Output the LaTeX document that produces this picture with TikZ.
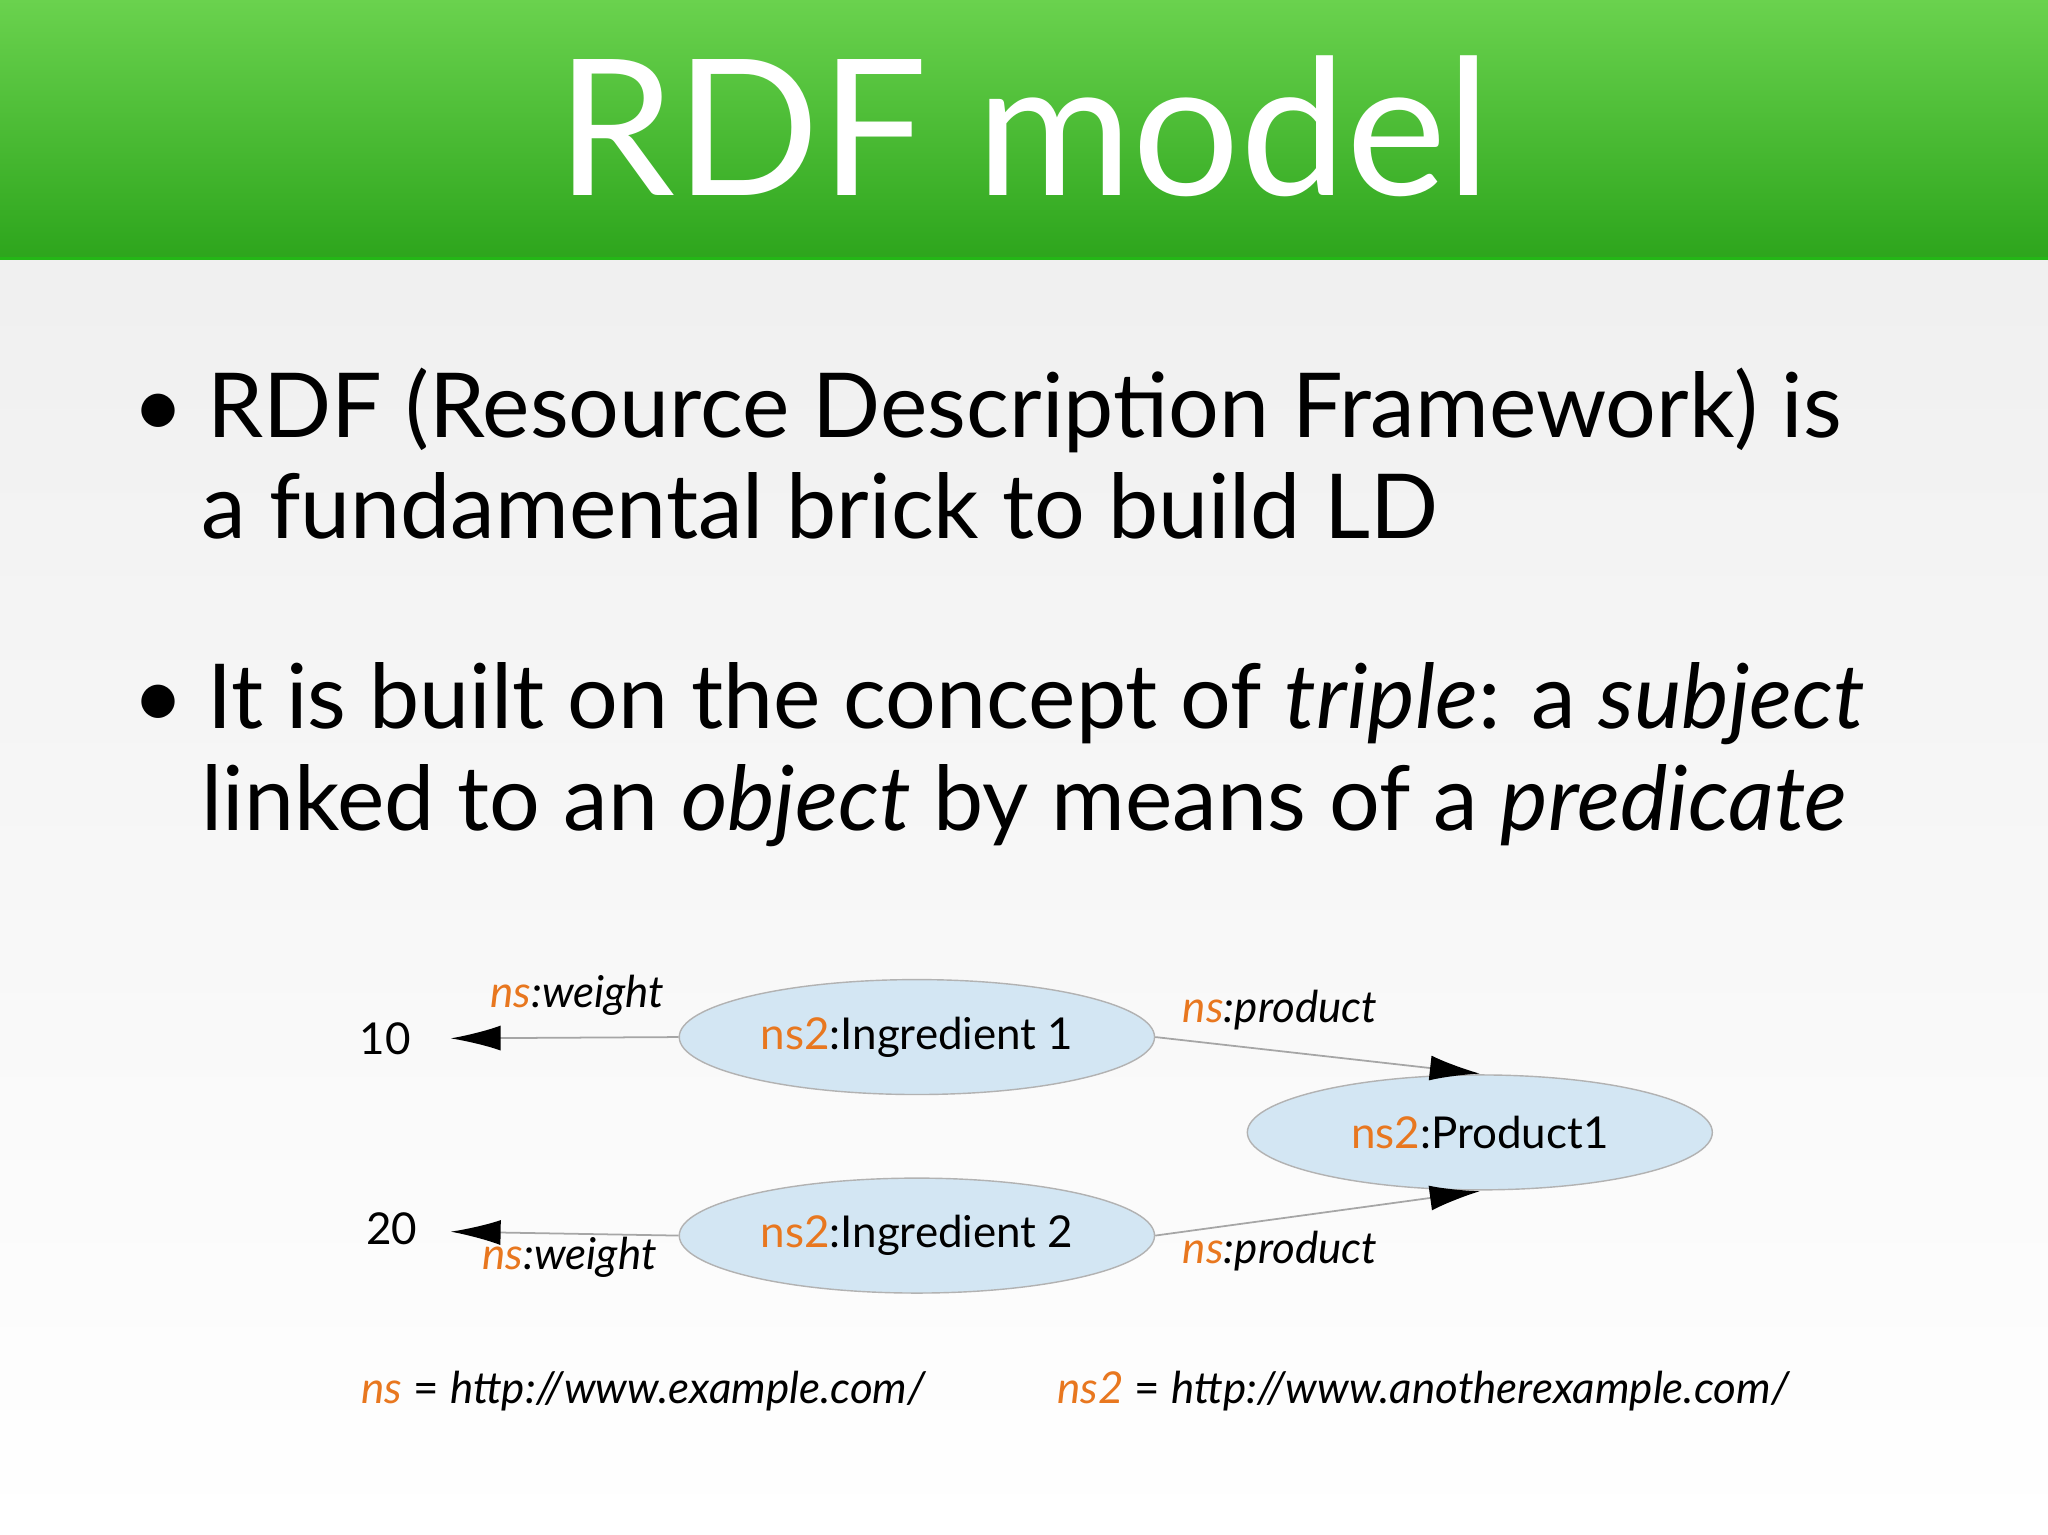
\documentclass[tikz,border=0pt]{standalone}
\usepackage{fontspec}
\setmainfont{Lato}
\usetikzlibrary{arrows.meta,shapes.geometric}
\definecolor{ora}{HTML}{E8771F}
\definecolor{ell}{HTML}{D3E6F3}
\definecolor{gtop}{HTML}{6AD24E}
\definecolor{gbot}{HTML}{2DA51C}
\begin{document}
\begin{tikzpicture}[x=0.01306cm,y=-0.01306cm,
  res/.style={ellipse,draw=gray!60,fill=ell,minimum width=356*0.01306cm,minimum height=88*0.01306cm,font=\fontsize{12.5}{14}\selectfont},
  lbl/.style={font=\fontsize{12.5}{14}\selectfont},
  arr/.style={draw=gray!70,line width=0.5pt,-{Latex[length=5mm,width=2.5mm,black]}},
  bul/.style={anchor=base west,align=left,font=\fontsize{25.5}{26}\selectfont}]
\path[use as bounding box] (0,0) rectangle (1568,1175);
\shade[top color=white!94!black,bottom color=white] (0,198) rectangle (1568,1175);
\shade[top color=gtop,bottom color=gbot] (0,0) rectangle (1568,198);
\draw[gbot!80!green,line width=1pt] (0,198) -- (1568,198);
\node[white,font=\fontsize{54}{54}\selectfont,anchor=base] (title) at (784,150) {RDF model};
\node[bul] (b1) at (92,335) {\textbullet\ RDF (Resource Description Framework) is};
\node[bul] (b1b) at (145,412) {a fundamental brick to build LD};
\node[bul] (b2) at (92,558) {\textbullet\ It is built on the concept of \textit{triple}: a \textit{subject}};
\node[bul] (b2b) at (145,636) {linked to an \textit{object} by means of a \textit{predicate}};
\node[res] (i1) at (702,794) {\textcolor{ora}{ns2}:Ingredient 1};
\node[res] (i2) at (702,946) {\textcolor{ora}{ns2}:Ingredient 2};
\node[res] (p) at (1133,867) {\textcolor{ora}{ns2}:Product1};
\node[lbl] (n10) at (295,795) {10};
\node[lbl] (n20) at (300,941) {20};
\coordinate (e10) at (345,795);
\coordinate (e20) at (345,943);
\coordinate (pt) at (1133,822);
\coordinate (pb) at (1133,912);
\draw[arr] (i1.west) -- (e10);
\draw[arr] (i2.west) -- (e20);
\draw[arr] (i1.east) -- (pt);
\draw[arr] (i2.east) -- (pb);
\node[lbl] (w1) at (442,762) {\textcolor{ora}{\textit{ns}}\textit{:weight}};
\node[lbl] (w2) at (436,963) {\textcolor{ora}{\textit{ns}}\textit{:weight}};
\node[lbl] (pr1) at (980,773) {\textcolor{ora}{\textit{ns}}\textit{:product}};
\node[lbl] (pr2) at (980,958) {\textcolor{ora}{\textit{ns}}\textit{:product}};
\node[lbl] (f1) at (493,1065) {\textcolor{ora}{\textit{ns}} = \textit{http://www.example.com/}};
\node[lbl] (f2) at (1090,1065) {\textcolor{ora}{\textit{ns2}} = \textit{http://www.anotherexample.com/}};
\end{tikzpicture}
\end{document}
